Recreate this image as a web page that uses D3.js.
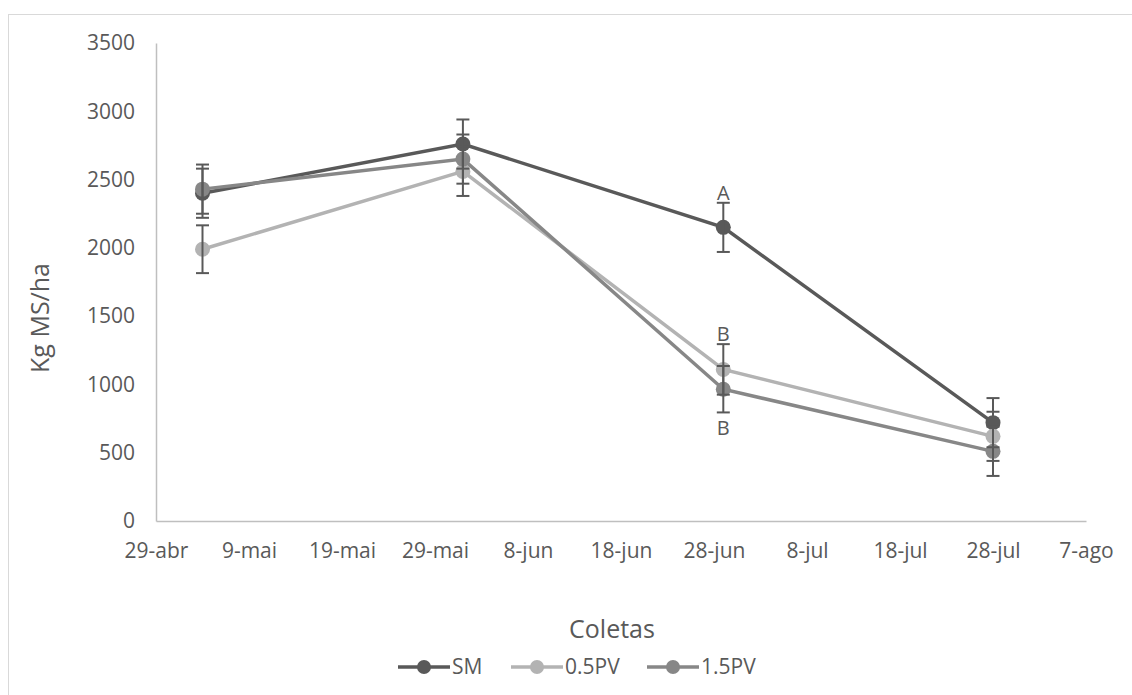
<!DOCTYPE html>
<html>
<head>
<meta charset="utf-8">
<script src="https://cdn.jsdelivr.net/npm/d3@7"></script>
<style>
	body { margin: 0; background: #fff; }
	text { font-family: "Open Sans", "Noto Sans", sans-serif; fill: #595959; }
</style>
</head>
<body>
<div id="chart-area"></div>
<script>
// dados
var coletas = ["2019-05-04", "2019-06-01", "2019-06-29", "2019-07-28"];
var seriesNames = ["SM", "0.5PV", "1.5PV"];
var smValues = [2400, 2760, 2150, 720];
var pv05Values = [1990, 2560, 1110, 620];
var pv15Values = [2430, 2650, 965, 510];
var smErr = [180, 180, 180, 180];
var pv05Err = [175, 180, 185, 180];
var pv15Err = [180, 180, 170, 180];
var xTicks = ["2019-04-29", "2019-05-09", "2019-05-19", "2019-05-29", "2019-06-08", "2019-06-18", "2019-06-28", "2019-07-08", "2019-07-18", "2019-07-28", "2019-08-07"];
var yTicks = [0, 500, 1000, 1500, 2000, 2500, 3000, 3500];
var mesesPt = ["jan", "fev", "mar", "abr", "mai", "jun", "jul", "ago", "set", "out", "nov", "dez"];
// letras de significancia (serie, coleta, lado)
var letras = [
	{serie: 0, idx: 2, text: "A", side: "top"},
	{serie: 1, idx: 2, text: "B", side: "top"},
	{serie: 2, idx: 2, text: "B", side: "bottom"}
];

const svgWidth = 1132;
const svgHeight = 695;
const colors = ["#595959", "#b3b3b3", "#878787"];

var parseDate = d3.timeParse("%Y-%m-%d");

var series = [
	{name: seriesNames[0], values: smValues, err: smErr},
	{name: seriesNames[1], values: pv05Values, err: pv05Err},
	{name: seriesNames[2], values: pv15Values, err: pv15Err}
].map((s, i) => {
	s.color = colors[i];
	s.points = coletas.map((c, j) => ({date: parseDate(c), value: s.values[j], err: s.err[j]}));
	return s;
});

var canvas = d3.select("#chart-area").append("svg")
	.attr("width", svgWidth)
	.attr("height", svgHeight);

canvas.append("rect")
	.attr("width", svgWidth)
	.attr("height", svgHeight)
	.attr("fill", "#fff");

canvas.append("rect")
	.attr("x", 8.5)
	.attr("y", 14.5)
	.attr("width", 1300)
	.attr("height", 900)
	.attr("fill", "none")
	.attr("stroke", "#d9d9d9")
	.attr("stroke-width", 1);

var xScale = d3.scaleTime()
	.domain([parseDate(xTicks[0]), parseDate(xTicks[xTicks.length - 1])])
	.range([156, 1086]);

var yScale = d3.scaleLinear()
	.domain([0, 3500])
	.range([521, 43]);

var xAxis = d3.axisBottom(xScale)
	.tickValues(xTicks.map(parseDate))
	.tickSize(0)
	.tickPadding(22)
	.tickFormat(d => d.getDate() + "-" + mesesPt[d.getMonth()]);

var yAxis = d3.axisLeft(yScale)
	.tickValues(yTicks)
	.tickSize(0)
	.tickPadding(21)
	.tickFormat(d => String(d));

var xAxisGroup = canvas.append("g")
	.attr("transform", "translate(0," + yScale(0) + ")")
	.call(xAxis);

var yAxisGroup = canvas.append("g")
	.attr("transform", "translate(" + xScale.range()[0] + ",0)")
	.call(yAxis);

[xAxisGroup, yAxisGroup].forEach(g => {
	g.select(".domain").attr("stroke", "#bfbfbf").attr("stroke-width", 1.5);
	g.selectAll("text")
		.attr("font-size", 21)
		.attr("font-family", "Open Sans")
		.attr("fill", "#595959");
});

var line = d3.line()
	.x(d => xScale(d.date))
	.y(d => yScale(d.value));

var plot = canvas.append("g");

series.forEach(s => {
	plot.append("path")
		.datum(s.points)
		.attr("d", line)
		.attr("fill", "none")
		.attr("stroke", s.color)
		.attr("stroke-width", 3.5);

	plot.selectAll(null)
		.data(s.points)
		.enter()
		.append("circle")
		.attr("cx", d => xScale(d.date))
		.attr("cy", d => yScale(d.value))
		.attr("r", 7.5)
		.attr("fill", s.color);
});

// barras de erro
var capW = 6.5;
series.forEach(s => {
	var eb = plot.selectAll(null)
		.data(s.points)
		.enter()
		.append("g")
		.attr("stroke", "#595959")
		.attr("stroke-width", 2);

	eb.append("line")
		.attr("x1", d => xScale(d.date))
		.attr("x2", d => xScale(d.date))
		.attr("y1", d => yScale(d.value + d.err))
		.attr("y2", d => yScale(d.value - d.err));

	eb.append("line")
		.attr("x1", d => xScale(d.date) - capW)
		.attr("x2", d => xScale(d.date) + capW)
		.attr("y1", d => yScale(d.value + d.err))
		.attr("y2", d => yScale(d.value + d.err));

	eb.append("line")
		.attr("x1", d => xScale(d.date) - capW)
		.attr("x2", d => xScale(d.date) + capW)
		.attr("y1", d => yScale(d.value - d.err))
		.attr("y2", d => yScale(d.value - d.err));
});

letras.forEach(l => {
	var p = series[l.serie].points[l.idx];
	var yy = l.side === "top" ? yScale(p.value + p.err) - 3 : yScale(p.value - p.err) + 23;
	canvas.append("text")
		.attr("x", xScale(p.date))
		.attr("y", yy)
		.attr("text-anchor", "middle")
		.attr("font-size", 20)
		.text(l.text);
});

canvas.append("text")
	.attr("transform", "translate(49,318) rotate(-90)")
	.attr("text-anchor", "middle")
	.attr("font-size", 25)
	.text("Kg MS/ha");

canvas.append("text")
	.attr("x", 612)
	.attr("y", 638)
	.attr("text-anchor", "middle")
	.attr("font-size", 25)
	.text("Coletas");

// legenda
var legendX = [398, 511, 647];
var legend = canvas.append("g");
series.forEach((s, i) => {
	var row = legend.append("g")
		.attr("transform", "translate(" + legendX[i] + ",667)");
	row.append("line")
		.attr("x1", 0)
		.attr("x2", 52)
		.attr("stroke", s.color)
		.attr("stroke-width", 3.5);
	row.append("circle")
		.attr("cx", 26)
		.attr("r", 7)
		.attr("fill", s.color);
	row.append("text")
		.attr("x", 54)
		.attr("y", 7)
		.attr("font-size", 21)
		.text(s.name);
});
</script>
</body>
</html>
